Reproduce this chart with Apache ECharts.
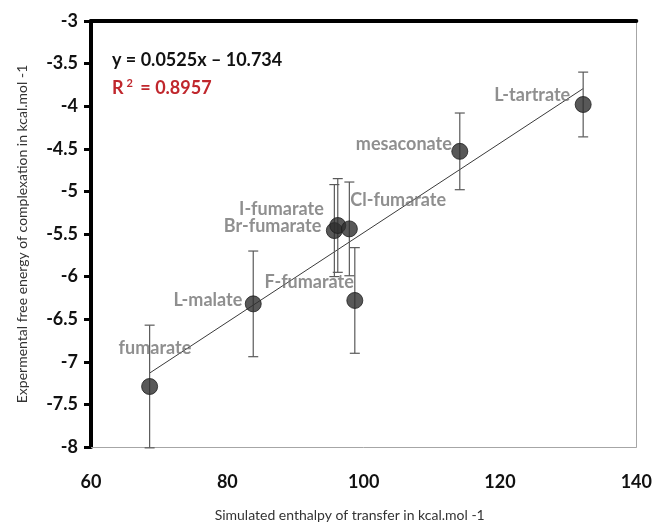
<!DOCTYPE html>
<html><head><meta charset="utf-8">
<script src="https://cdn.jsdelivr.net/npm/echarts@6/dist/echarts.min.js"></script>
<style>html,body{margin:0;padding:0;background:#fff}#c{width:655px;height:527px}</style>
</head><body><div id="c"></div>
<script>
const names = ['fumarate','L-malate','F-fumarate','Br-fumarate','I-fumarate','Cl-fumarate','mesaconate','L-tartrate'];
const simX = [68.6, 83.8, 98.7, 95.7, 96.2, 97.9, 114.1, 132.2];
const expY = [-7.29, -6.32, -6.28, -5.46, -5.40, -5.44, -4.53, -3.98];
const errY = [0.72, 0.62, 0.62, 0.54, 0.55, 0.55, 0.45, 0.38];
const slope = 0.0525, intercept = -10.734;
const xTicks = [60, 80, 100, 120, 140];
const yTicks = [-8, -7.5, -7, -6.5, -6, -5.5, -5, -4.5, -4, -3.5, -3];

// label placement (layout only): anchor offset from point centre
const labelPlace = [
  {align:'left',  off:[-31,-38]},
  {align:'right', off:[-11,-4]},
  {align:'right', off:[-1,-18]},
  {align:'right', off:[-13,-4]},
  {align:'right', off:[-14,-16]},
  {align:'left',  off:[1,-29]},
  {align:'right', off:[-8,-7]},
  {align:'right', off:[-13,-9]}
];

const FONT = 'Lato, "Open Sans", sans-serif';
const chart = echarts.init(document.getElementById('c'), null, {renderer:'canvas'});

const scatterData = names.map((n,i)=>({name:n, value:[simX[i], expY[i]]}));
const errData = names.map((n,i)=>[simX[i], expY[i]-errY[i], expY[i]+errY[i]]);
const xMin = Math.min(...simX), xMax = Math.max(...simX);
const trend = [[xMin, slope*xMin+intercept],[xMax, slope*xMax+intercept]];

const option = {
  animation:false,
  grid:{left:91, right:16, top:21, bottom:75, show:false},
  xAxis:[{
    type:'value', min:60, max:140, interval:20, position:'bottom',
    axisLine:{show:true, onZero:false, lineStyle:{color:'#a6a6a6', width:1}},
    axisTick:{show:false}, splitLine:{show:false},
    axisLabel:{margin:26, fontFamily:FONT, fontWeight:'bold', fontSize:18, color:'#111'},
    name:'Simulated enthalpy of transfer in kcal.mol -1', nameLocation:'middle', nameGap:61,
    nameTextStyle:{fontFamily:FONT, fontSize:14, color:'#333', padding:[0,28,0,0]}
  },{
    type:'value', min:60, max:140, interval:20, position:'top',
    axisLine:{show:true, onZero:false, lineStyle:{color:'#000', width:4}},
    axisTick:{show:false}, axisLabel:{show:false}, splitLine:{show:false}
  }],
  yAxis:[{
    type:'value', min:-8, max:-3, interval:0.5, position:'left',
    axisLine:{show:true, onZero:false, lineStyle:{color:'#000', width:4}},
    axisTick:{show:true, length:7, lineStyle:{color:'#000', width:3}},
    splitLine:{show:false},
    axisLabel:{margin:13, fontFamily:FONT, fontWeight:'bold', fontSize:18, color:'#111'},
    name:'Expermental free energy of complexation in kcal.mol -1', nameLocation:'middle', nameGap:62,
    nameTextStyle:{fontFamily:FONT, fontSize:14, color:'#333'}
  },{
    type:'value', min:-8, max:-3, interval:0.5, position:'right',
    axisLine:{show:true, onZero:false, lineStyle:{color:'#a6a6a6', width:1}},
    axisTick:{show:false}, axisLabel:{show:false}, splitLine:{show:false}
  }],
  graphic:[
    {type:'text', left:112, top:51, style:{text:'y = 0.0525x \u2013 10.734', font:'bold 18px Lato, sans-serif', fill:'#111'}},
    {type:'text', left:112, top:78, style:{
      text:'{a|R}{s|2}{a| = 0.8957}',
      rich:{a:{font:'bold 18px Lato, sans-serif', fill:'#c0272d'}, s:{font:'bold 11px Lato, sans-serif', fill:'#c0272d', verticalAlign:'top', padding:[0,3,9,3]}}
    }}
  ],
  series:[
    {type:'line', data:trend, symbol:'none', lineStyle:{color:'#3a3a3a', width:1}, z:2, silent:true},
    {type:'custom', data:errData, z:3, silent:true,
      renderItem:function(params, api){
        const x = api.value(0);
        const lo = api.coord([x, api.value(1)]);
        const hi = api.coord([x, api.value(2)]);
        const cap = 5;
        const st = {stroke:'#5a5a5a', lineWidth:1.2};
        return {type:'group', children:[
          {type:'line', shape:{x1:lo[0], y1:lo[1], x2:hi[0], y2:hi[1]}, style:st},
          {type:'line', shape:{x1:lo[0]-cap, y1:lo[1], x2:lo[0]+cap, y2:lo[1]}, style:st},
          {type:'line', shape:{x1:hi[0]-cap, y1:hi[1], x2:hi[0]+cap, y2:hi[1]}, style:st}
        ]};
      }},
    {type:'scatter', data:scatterData, symbol:'circle', symbolSize:16, z:4,
      itemStyle:{color:'#2e2e2e', borderColor:'#1e1e1e', borderWidth:1},
      label:{show:true, formatter:'{b}', position:'inside', fontFamily:FONT, fontWeight:'bold', fontSize:18, color:'#737373'},
      labelLayout:function(p){
        const lp = labelPlace[p.dataIndex];
        const cx = p.rect.x + p.rect.width/2, cy = p.rect.y + p.rect.height/2;
        return {x: cx + lp.off[0], y: cy + lp.off[1], align: lp.align, verticalAlign:'middle', hideOverlap:false};
      }
    }
  ]
};
chart.setOption(option);
</script></body></html>
